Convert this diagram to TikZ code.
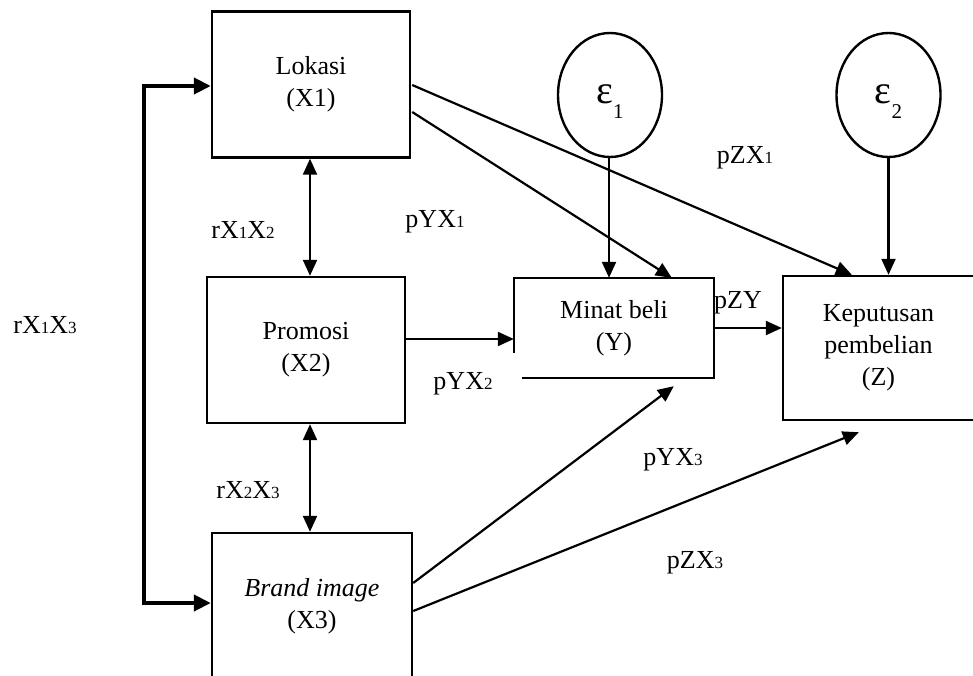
\documentclass[tikz,border=0pt]{standalone}
\usepackage{fontspec}
\setmainfont{Liberation Serif}
\usetikzlibrary{arrows.meta,shapes.geometric,calc}
\newcommand\sdig[1]{{\fontsize{17}{17}\selectfont #1}}
\begin{document}
\begin{tikzpicture}[x=1pt,y=1pt,
  box/.style={draw, line width=2.4pt, minimum width=198pt, minimum height=146pt,
    align=center, inner sep=0pt, font=\fontsize{26}{32}\selectfont},
  errnode/.style={draw, ellipse, line width=2.4pt, minimum width=104pt, minimum height=124pt,
    inner sep=0pt, text height=10pt, text depth=10pt},
  conn/.style={line width=2.2pt, -{Triangle[length=16pt,width=14pt]}},
  dconn/.style={line width=2.2pt, {Triangle[length=16pt,width=14pt]}-{Triangle[length=16pt,width=14pt]}},
  bconn/.style={line width=4pt, {Triangle[length=17pt,width=16pt]}-{Triangle[length=17pt,width=16pt]}},
  lab/.style={inner sep=0pt, font=\fontsize{26}{30}\selectfont}]
\useasboundingbox (0,0) rectangle (973,-675);
\clip (0,0) rectangle (973,-675);

% boxes
\node[box] (lokasi) at (311,-84.5) {Lokasi\\(X1)};
\node[box] (promosi) at (306,-350) {Promosi\\(X2)};
\node[box, minimum width=200pt] (brand) at (312,-606) {\textit{Brand image}\\(X3)};
\node[box, draw=none, minimum height=98pt] (minat) at (614,-328) {Minat beli\\(Y)};
\draw[line width=2.4pt] ($(minat.south west)+(0,25)$) -- (minat.north west) -- (minat.north east)
  -- (minat.south east) -- ($(minat.south west)+(8,0)$);
\node[box, minimum width=191pt, minimum height=144pt] (keputusan) at (878.5,-348) {Keputusan\\pembelian\\(Z)};

% error terms
\node[errnode] (e1) at (610,-95) {\raisebox{-8pt}{\fontsize{40}{40}\selectfont ε}\raisebox{-23pt}{\fontsize{21}{21}\selectfont 1}};
\node[errnode] (e2) at (888.5,-95) {\raisebox{-8pt}{\fontsize{40}{40}\selectfont ε}\raisebox{-23pt}{\fontsize{21}{21}\selectfont 2}};

% correlations
\draw[dconn] (lokasi.south -| 310,0) -- (promosi.north -| 310,0);
\draw[dconn] (promosi.south -| 310,0) -- (brand.north -| 310,0);
\draw[bconn] ($(lokasi.west)+(0,-1.5)$) -- ++(-67,0) |- ($(brand.west)+(0,3)$);

% paths
\coordinate (mw) at ($(minat.west)+(0,-11)$);
\draw[conn] (promosi.east |- mw) -- (mw);
\draw[conn] (minat.east) -- (minat.east -| keputusan.west);
\draw[conn] (e1.south -| 609,0) -- (minat.north -| 609,0);
\draw[conn] (e2.south) -- (e2.south |- keputusan.north);
\draw[conn] ($(lokasi.east)+(1,-0.5)$) -- ($(keputusan.north west)+(70,0)$);
\draw[conn] ($(lokasi.east)+(1,-27.5)$) -- ($(minat.north west)+(158,0)$);
\draw[conn] ($(brand.east)+(0,23)$) -- ($(minat.south west)+(160,-8)$);
\draw[conn] ($(brand.east)+(0,-5)$) -- ($(keputusan.south west)+(77,-11)$);

% labels
\node[lab] (l13) at (45,-325) {rX\sdig{1}X\sdig{3}};
\node[lab] (l12) at (243,-230) {rX\sdig{1}X\sdig{2}};
\node[lab] (l23) at (248,-490) {rX\sdig{2}X\sdig{3}};
\node[lab] (py1) at (435,-222) {pYX\sdig{1}};
\node[lab] (py2) at (463,-384) {pYX\sdig{2}};
\node[lab] (pz1) at (745,-158) {pZX\sdig{1}};
\node[lab] (pzy) at (738,-303) {pZY};
\node[lab] (py3) at (673,-460) {pYX\sdig{3}};
\node[lab] (pz3) at (695,-563) {pZX\sdig{3}};
\end{tikzpicture}
\end{document}
